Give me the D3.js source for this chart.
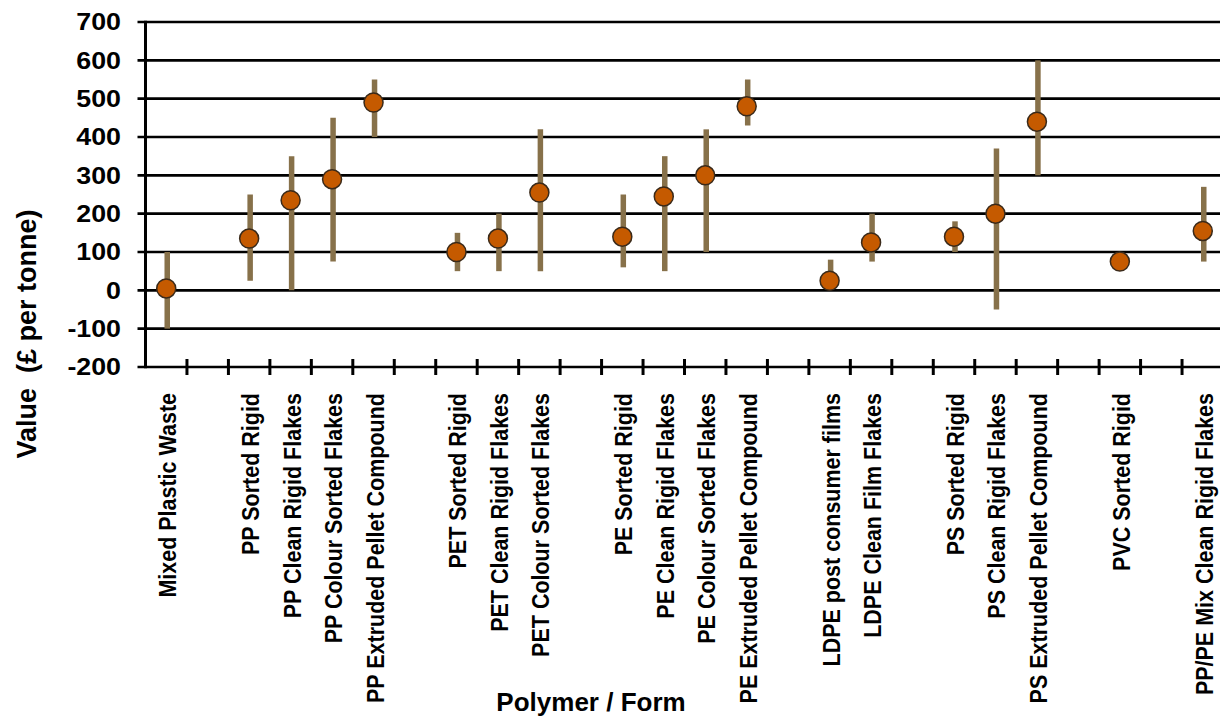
<!DOCTYPE html>
<html>
<head>
<meta charset="utf-8">
<script src="https://cdn.jsdelivr.net/npm/d3@7"></script>
<style>
  html, body { margin: 0; padding: 0; background: #fff; }
  svg { display: block; font-family: "Liberation Sans", Arial, sans-serif; font-weight: bold; }
</style>
</head>
<body>
<svg id="chart" width="1220" height="716"></svg>
<script>
// ---- Data ----
const categories = [
  "Mixed Plastic Waste", "",
  "PP Sorted Rigid", "PP Clean Rigid Flakes", "PP Colour Sorted Flakes", "PP Extruded Pellet Compound", "",
  "PET Sorted Rigid", "PET Clean Rigid Flakes", "PET Colour Sorted Flakes", "",
  "PE Sorted Rigid", "PE Clean Rigid Flakes", "PE Colour Sorted Flakes", "PE Extruded Pellet Compound", "",
  "LDPE post consumer films", "LDPE Clean Film Flakes", "",
  "PS Sorted Rigid", "PS Clean Rigid Flakes", "PS Extruded Pellet Compound", "",
  "PVC Sorted Rigid", "",
  "PP/PE Mix Clean Rigid Flakes"
];
const values = [5, null, 135, 235, 290, 490, null, 100, 135, 255, null, 140, 245, 300, 480, null, 25, 125, null, 140, 200, 440, null, 75, null, 155];
const lows   = [-100, null, 25, 0, 75, 400, null, 50, 50, 50, null, 60, 50, 100, 430, null, 20, 75, null, 100, -50, 300, null, 75, null, 75];
const highs  = [100, null, 250, 350, 450, 550, null, 150, 200, 420, null, 250, 350, 420, 550, null, 80, 200, null, 180, 370, 600, null, 75, null, 270];
const yTicks = [-200, -100, 0, 100, 200, 300, 400, 500, 600, 700];
const yTitle = "Value  (£ per tonne)";
const xTitle = "Polymer / Form";

// ---- Layout ----
const svg = d3.select("#chart");
const plotLeft = 145.5, plotRight = 1223.5, plotTop = 22, plotBottom = 367;

const x = d3.scaleBand().domain(d3.range(categories.length)).range([plotLeft, plotRight]).padding(0);
const y = d3.scaleLinear().domain([-200, 700]).range([plotBottom, plotTop]);

// Gridlines
svg.append("g").selectAll("line").data(yTicks).join("line")
  .attr("x1", plotLeft - 8).attr("x2", 1220)
  .attr("y1", d => y(d)).attr("y2", d => y(d))
  .attr("stroke", "#000").attr("stroke-width", 2.6);

// Left axis line
svg.append("line")
  .attr("x1", plotLeft).attr("x2", plotLeft).attr("y1", y(700) - 1.3).attr("y2", y(-200) + 1.3)
  .attr("stroke", "#000").attr("stroke-width", 3);

// Bottom category ticks at band boundaries
const boundaries = d3.range(1, categories.length).map(i => x(i));
svg.append("g").selectAll("line").data(boundaries).join("line")
  .attr("x1", d => d).attr("x2", d => d)
  .attr("y1", y(-200) - 8).attr("y2", y(-200) + 8)
  .attr("stroke", "#000").attr("stroke-width", 3);

// Y tick labels
svg.append("g").selectAll("text").data(yTicks).join("text")
  .attr("transform", d => `translate(121,${y(d)}) scale(1.14,1)`)
  .attr("dy", "0.35em")
  .attr("text-anchor", "end")
  .attr("font-size", 23.5)
  .attr("fill", "#000")
  .text(d => d);

// X category labels
svg.append("g").selectAll("text")
  .data(categories.map((c, i) => ({c, i})).filter(d => d.c !== ""))
  .join("text")
  .attr("transform", d => `translate(${x(d.i) + x.bandwidth() / 2 + 10},393) rotate(-90) scale(1,1.12)`)
  .attr("text-anchor", "end")
  .attr("font-size", 21.5)
  .attr("fill", "#000")
  .text(d => d.c);

// Axis titles
svg.append("text")
  .attr("transform", "translate(36,334) rotate(-90)")
  .attr("text-anchor", "middle")
  .attr("font-size", 27)
  .style("white-space", "pre")
  .attr("fill", "#000")
  .text(yTitle);

svg.append("text")
  .attr("x", 591).attr("y", 711)
  .attr("text-anchor", "middle")
  .attr("font-size", 26)
  .attr("fill", "#000")
  .text(xTitle);

// Error bars
const pts = values.map((v, i) => ({v, lo: lows[i], hi: highs[i], i})).filter(d => d.v !== null);
svg.append("g").selectAll("line").data(pts.filter(d => d.hi > d.lo)).join("line")
  .attr("x1", d => x(d.i) + x.bandwidth() / 2 + 1)
  .attr("x2", d => x(d.i) + x.bandwidth() / 2 + 1)
  .attr("y1", d => y(d.hi)).attr("y2", d => y(d.lo))
  .attr("stroke", "#87714A").attr("stroke-width", 5.5);

// Points
svg.append("g").selectAll("circle").data(pts).join("circle")
  .attr("cx", d => x(d.i) + x.bandwidth() / 2)
  .attr("cy", d => y(d.v))
  .attr("r", 9.5)
  .attr("fill", "#C55A00")
  .attr("stroke", "#3A2A1A")
  .attr("stroke-width", 1.5);
</script>
</body>
</html>
